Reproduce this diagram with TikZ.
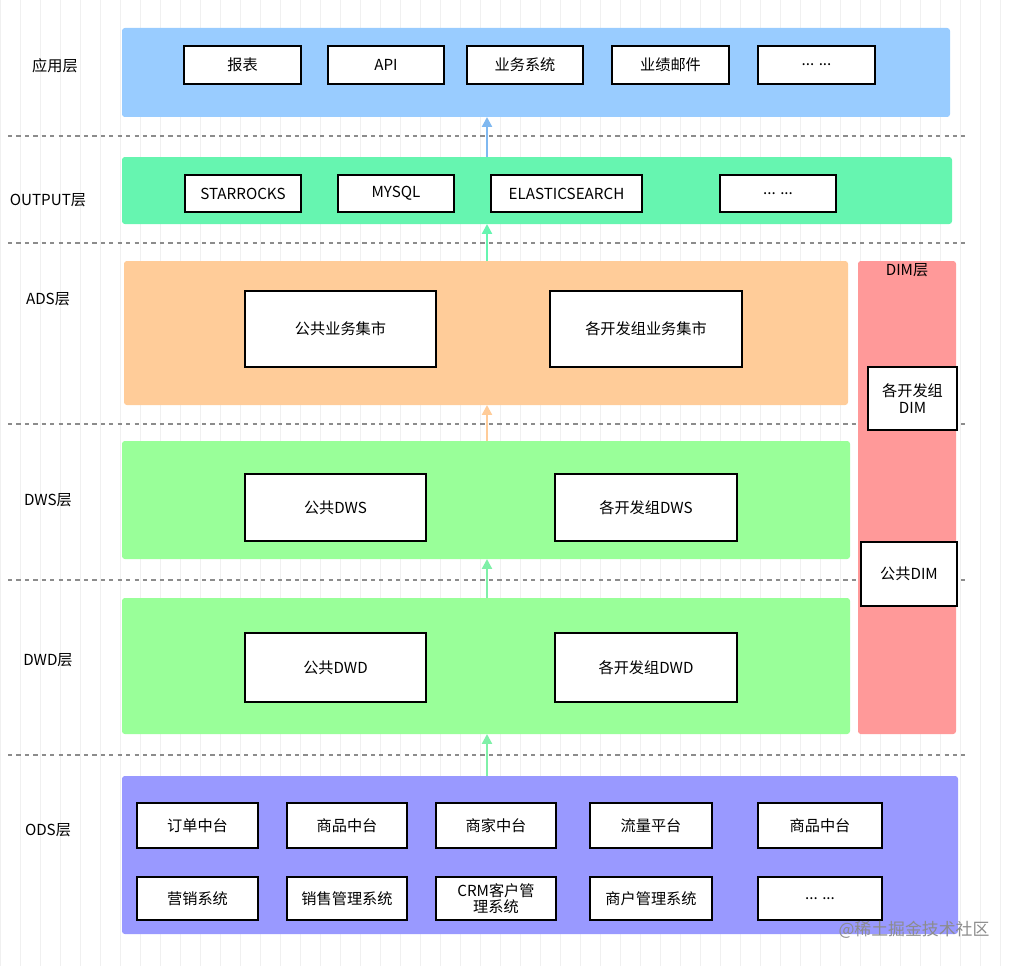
\documentclass[tikz,border=0pt]{standalone}
\usepackage{fontspec}
\setmainfont{Noto Sans CJK SC}
\usetikzlibrary{arrows.meta, positioning}
\definecolor{appblue}{HTML}{99CCFF}
\definecolor{outgreen}{HTML}{66F5B0}
\definecolor{adsorange}{HTML}{FFCC99}
\definecolor{dimred}{HTML}{FF9999}
\definecolor{dwgreen}{HTML}{99FF99}
\definecolor{odspurple}{HTML}{9999FF}
\definecolor{arrgreen}{HTML}{7FF0A8}
\definecolor{arrblue}{HTML}{7FB8F0}
% box from pixel corners: name, x1, y1, x2, y2, style, text
\newcommand{\pbox}[7]{%
  \node[#6, minimum width={(#4-#2)*0.025cm}, minimum height={(#5-#3)*0.025cm}]
    (#1) at ({(#2+#4)/2},{(#3+#5)/2}) {#7};}

\begin{document}
\begin{tikzpicture}[x=0.025cm, y=-0.025cm, font=\fontsize{10.8}{12.5}\selectfont]
    \tikzstyle{band}=[inner sep=0pt, rounded corners=2pt]
    \tikzstyle{item}=[draw=black, fill=white, line width=1pt, inner sep=1pt, align=center]
    \tikzstyle{layer}=[anchor=center]
    \tikzstyle{sep}=[draw=black!45, dashed, line width=0.8pt]
    \tikzstyle{up}=[-{Triangle[length=7pt,width=7pt]}, line width=1.6pt]

    \useasboundingbox (0,0) rectangle (1020,966);
    \draw[black!6, step=20] (0,0) grid (1020,966);

    % separators
    \foreach \y in {136,243,424,580,755}
        \draw[sep] (8,\y) -- (965,\y);

    % layer bands
    \pbox{app}{122}{28}{950}{117}{band, fill=appblue}{}
    \pbox{out}{122}{157}{952}{224}{band, fill=outgreen}{}
    \pbox{ads}{124}{261}{848}{405}{band, fill=adsorange}{}
    \pbox{dim}{858}{261}{956}{734}{band, fill=dimred}{}
    \pbox{dws}{122}{441}{850}{559}{band, fill=dwgreen}{}
    \pbox{dwd}{122}{598}{850}{734}{band, fill=dwgreen}{}
    \pbox{ods}{122}{776}{958}{934}{band, fill=odspurple}{}

    % layer names
    \node[layer] (l-app) at (55,66) {应用层};
    \node[layer] (l-out) at (48,200) {OUTPUT层};
    \node[layer] (l-ads) at (48,299) {ADS层};
    \node[layer] (l-dws) at (48,500) {DWS层};
    \node[layer] (l-dwd) at (48,660) {DWD层};
    \node[layer] (l-ods) at (48,830) {ODS层};
    \node[layer] (l-dim) at (907,270) {DIM层};

    % application layer
    \pbox{a1}{184}{46}{301}{84}{item}{报表}
    \pbox{a2}{328}{46}{444}{84}{item}{API}
    \pbox{a3}{467}{46}{583}{84}{item}{业务系统}
    \pbox{a4}{612}{46}{729}{84}{item}{业绩邮件}
    \pbox{a5}{758}{46}{875}{84}{item}{... ...}

    % output layer
    \pbox{o1}{185}{175}{301}{212}{item}{STARROCKS}
    \pbox{o2}{338}{175}{454}{212}{item}{MYSQL}
    \pbox{o3}{491}{175}{642}{212}{item}{ELASTICSEARCH}
    \pbox{o4}{720}{175}{836}{212}{item}{... ...}

    % ads / dws / dwd
    \pbox{s1}{245}{291}{436}{367}{item}{公共业务集市}
    \pbox{s2}{550}{291}{742}{367}{item}{各开发组业务集市}
    \pbox{w1}{245}{474}{426}{541}{item}{公共DWS}
    \pbox{w2}{555}{474}{737}{541}{item}{各开发组DWS}
    \pbox{d1}{245}{633}{426}{702}{item}{公共DWD}
    \pbox{d2}{555}{633}{737}{702}{item}{各开发组DWD}

    % dim
    \pbox{m1}{868}{367}{957}{430}{item}{各开发组\\DIM}
    \pbox{m2}{861}{542}{957}{606}{item}{公共DIM}

    % ods
    \pbox{r1}{137}{803}{258}{848}{item}{订单中台}
    \pbox{r2}{287}{803}{407}{848}{item}{商品中台}
    \pbox{r3}{436}{803}{556}{848}{item}{商家中台}
    \pbox{r4}{590}{803}{712}{848}{item}{流量平台}
    \pbox{r5}{758}{803}{882}{848}{item}{商品中台}
    \pbox{q1}{137}{877}{258}{920}{item}{营销系统}
    \pbox{q2}{287}{877}{407}{920}{item}{销售管理系统}
    \pbox{q3}{436}{877}{556}{920}{item, font=\fontsize{10.8}{11}\selectfont}{CRM客户管\\理系统}
    \pbox{q4}{590}{877}{712}{920}{item}{商户管理系统}
    \pbox{q5}{758}{877}{882}{920}{item}{... ...}

    % flow between layers
    \coordinate (c-ods) at (487,776);
    \coordinate (c-dwd-b) at (487,734);
    \coordinate (c-dwd-t) at (487,598);
    \coordinate (c-dws-b) at (487,559);
    \coordinate (c-dws-t) at (487,441);
    \coordinate (c-ads-b) at (487,405);
    \coordinate (c-ads-t) at (487,261);
    \coordinate (c-out-b) at (487,224);
    \coordinate (c-out-t) at (487,157);
    \coordinate (c-app-b) at (487,117);
    \draw[up, draw=arrgreen] (c-ods) -- (c-dwd-b);
    \draw[up, draw=arrgreen] (c-dwd-t) -- (c-dws-b);
    \draw[up, draw=adsorange] (c-dws-t) -- (c-ads-b);
    \draw[up, draw=outgreen] (c-ads-t) -- (c-out-b);
    \draw[up, draw=arrblue] (c-out-t) -- (c-app-b);

    \node[text=black!45, font=\fontsize{12}{13}\selectfont] (wm) at (914,930) {@稀土掘金技术社区};
\end{tikzpicture}
\end{document}
